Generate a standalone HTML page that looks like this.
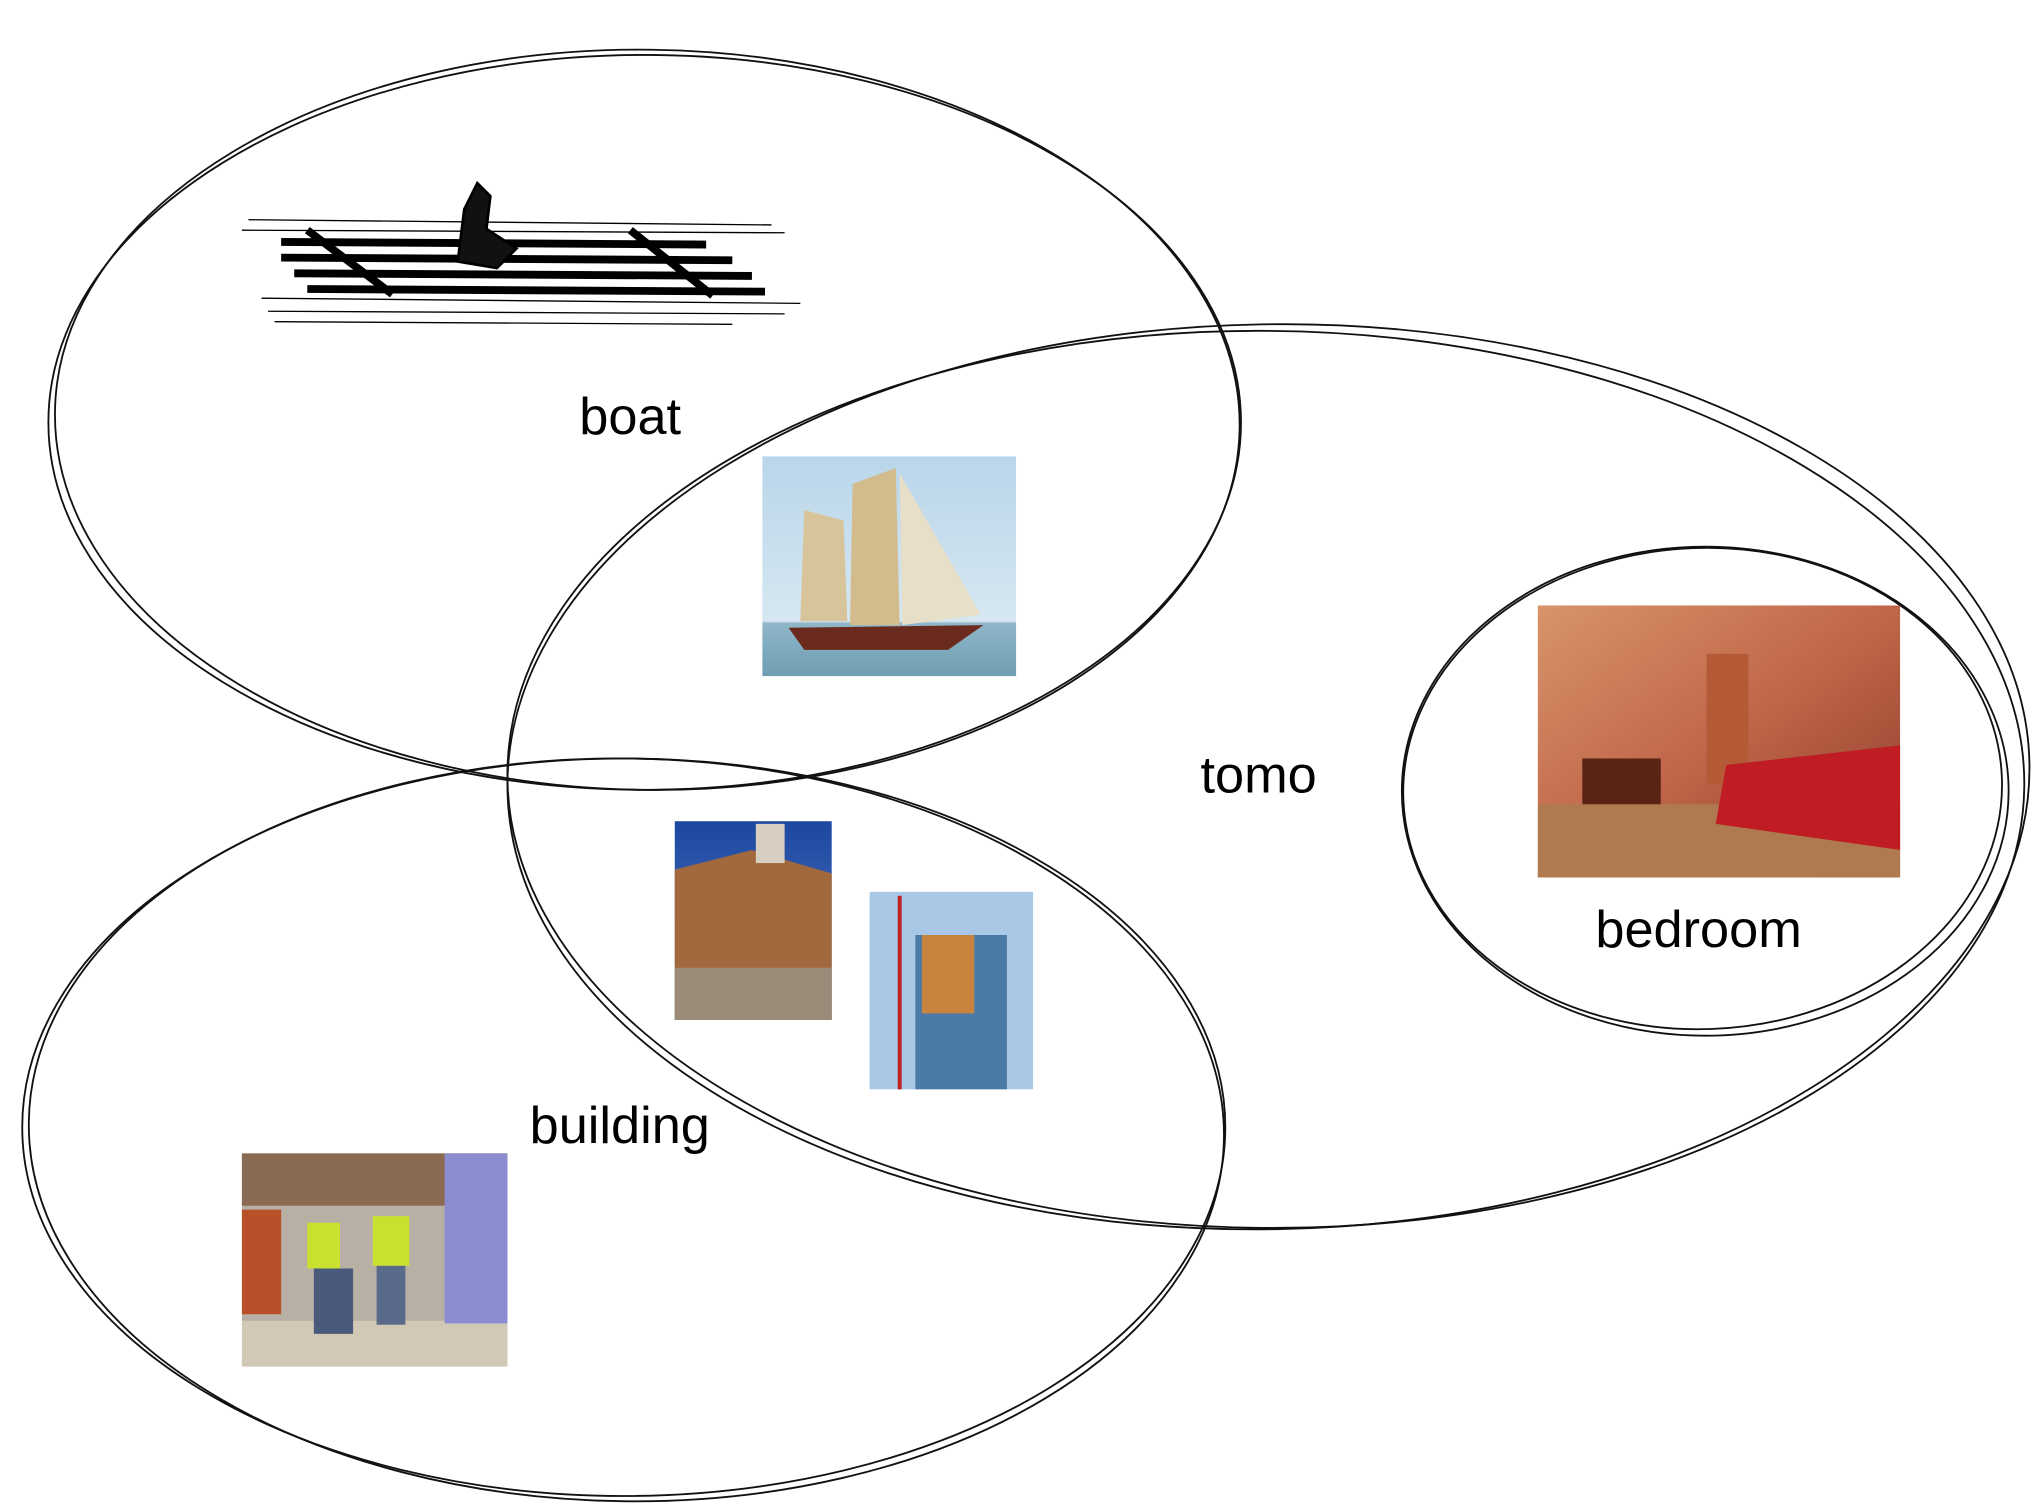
<!DOCTYPE html>
<html><head><meta charset="utf-8"><style>html,body{margin:0;padding:0;background:#fff}svg{display:block}</style></head>
<body>
<svg width="2040" height="1507" viewBox="0 0 1560 1152.4" xmlns="http://www.w3.org/2000/svg">
<rect width="1560" height="1153" fill="#fff"/>
<defs>
<linearGradient id="sky" x1="0" y1="0" x2="0" y2="1"><stop offset="0" stop-color="#b9d6ea"/><stop offset="0.75" stop-color="#d6e7f1"/><stop offset="0.76" stop-color="#8fb6c8"/><stop offset="1" stop-color="#6f9db2"/></linearGradient>
<linearGradient id="room" x1="0" y1="0" x2="1" y2="1"><stop offset="0" stop-color="#d8946a"/><stop offset="0.5" stop-color="#c0664a"/><stop offset="1" stop-color="#8a3a28"/></linearGradient>
<linearGradient id="blue" x1="0" y1="0" x2="0" y2="1"><stop offset="0" stop-color="#1d47a0"/><stop offset="1" stop-color="#5b86c8"/></linearGradient>
</defs>
<g fill="none" stroke="#111" stroke-width="1.4">
<ellipse cx="493" cy="323" rx="456" ry="281"/>
<ellipse cx="495" cy="321" rx="453" ry="283" transform="rotate(0.8 495 321)"/>
<ellipse cx="970" cy="594" rx="582" ry="346" transform="rotate(-1 970 594)"/>
<ellipse cx="968" cy="596" rx="580" ry="343" transform="rotate(0.5 968 596)"/>
<ellipse cx="477" cy="862" rx="460" ry="282"/>
<ellipse cx="479" cy="864" rx="457" ry="284" transform="rotate(0.8 479 864)"/>
<ellipse cx="1304" cy="605" rx="232" ry="187"/>
<ellipse cx="1302" cy="603" rx="229" ry="184" transform="rotate(-2 1302 603)"/>
</g>
<!-- raft sketch -->
<g stroke="#000" fill="none">
<g stroke-width="1">
<line x1="190" y1="168" x2="590" y2="172"/><line x1="185" y1="176" x2="600" y2="178"/>
<line x1="200" y1="228" x2="612" y2="232"/><line x1="205" y1="238" x2="600" y2="240"/>
<line x1="210" y1="246" x2="560" y2="248"/>
</g>
<g stroke-width="6">
<line x1="215" y1="185" x2="540" y2="187"/><line x1="215" y1="197" x2="560" y2="199"/>
<line x1="225" y1="209" x2="575" y2="211"/><line x1="235" y1="221" x2="585" y2="223"/>
<line x1="235" y1="176" x2="300" y2="225"/><line x1="482" y1="176" x2="545" y2="226"/>
</g>
<path d="M350 200 L355 160 L365 140 L375 150 L372 175 L395 190 L380 205 Z" fill="#111" stroke-width="2"/>
</g>
<!-- sailboat -->
<rect x="583" y="349" width="194" height="168" fill="url(#sky)"/>
<polygon points="615,390 645,398 648,475 612,475" fill="#d8c49a"/>
<polygon points="652,370 685,358 688,478 650,478" fill="#d2bc8e"/>
<polygon points="688,362 750,470 690,478" fill="#e8dfc8"/>
<path d="M603 480 L752 478 L725 497 L615 497 Z" fill="#6b2a1e"/>
<!-- old building -->
<rect x="516" y="628" width="120" height="152" fill="url(#blue)"/>
<polygon points="516,665 575,650 636,668 636,780 516,780" fill="#a2683e"/>
<rect x="578" y="630" width="22" height="30" fill="#d9cfc0"/>
<rect x="516" y="740" width="120" height="40" fill="#9a8a78"/>
<!-- tower -->
<rect x="665" y="682" width="125" height="151" fill="#a9c8e6"/>
<rect x="700" y="715" width="70" height="118" fill="#4c7aa6"/>
<rect x="705" y="715" width="40" height="60" fill="#c8843e"/>
<line x1="688" y1="685" x2="688" y2="833" stroke="#c02020" stroke-width="3"/>
<!-- bedroom -->
<rect x="1176" y="463" width="277" height="208" fill="url(#room)"/>
<rect x="1305" y="500" width="32" height="100" fill="#b45a36"/>
<rect x="1176" y="615" width="277" height="56" fill="#b07a50"/>
<polygon points="1320,585 1453,570 1453,650 1312,630" fill="#c01c24"/>
<rect x="1210" y="580" width="60" height="35" fill="#5a2414"/>
<!-- workers -->
<rect x="185" y="882" width="203" height="163" fill="#b8b0a4"/>
<rect x="185" y="882" width="203" height="40" fill="#8a6a50"/>
<rect x="185" y="1010" width="203" height="35" fill="#d2c8b6"/>
<rect x="340" y="882" width="48" height="130" fill="#8c8cd0"/>
<rect x="235" y="935" width="25" height="35" fill="#c8e030"/>
<rect x="285" y="930" width="28" height="38" fill="#c8e030"/>
<rect x="240" y="970" width="30" height="50" fill="#4a5a7a"/>
<rect x="288" y="968" width="22" height="45" fill="#5a6a8a"/>
<rect x="185" y="925" width="30" height="80" fill="#b8502a"/>
<g font-family="'Liberation Sans', sans-serif" font-size="40" fill="#000">
<text x="443" y="332">boat</text>
<text x="918" y="606">tomo</text>
<text x="1220" y="724">bedroom</text>
<text x="405" y="874">building</text>
</g>
</svg>
</body></html>
